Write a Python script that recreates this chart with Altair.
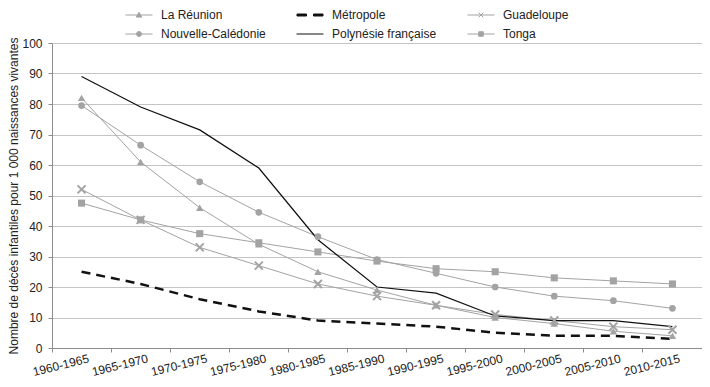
import altair as alt
import pandas as pd

periods = ["1960-1965", "1965-1970", "1970-1975", "1975-1980", "1980-1985", "1985-1990",
           "1990-1995", "1995-2000", "2000-2005", "2005-2010", "2010-2015"]
reunion = [82, 61, 46, 34, 25, 19, 14, 10, 8, 5.5, 4]
metropole = [25, 21, 16, 12, 9, 8, 7, 5, 4, 4, 3]
guadeloupe = [52, 42, 33, 27, 21, 17, 14, 11, 9, 7, 6]
caledonie = [79.5, 66.5, 54.5, 44.5, 36.5, 29, 24.5, 20, 17, 15.5, 13]
polynesie = [89, 79, 71.5, 59, 35.5, 20, 18, 10.5, 9, 9, 7]
tonga = [47.5, 42, 37.5, 34.5, 31.5, 28.5, 26, 25, 23, 22, 21]

series_names = ["La Réunion", "Métropole", "Guadeloupe",
                "Nouvelle-Calédonie", "Polynésie française", "Tonga"]
series_values = [reunion, metropole, guadeloupe, caledonie, polynesie, tonga]

GRAY = "#a3a3a3"
BLACK = "#111111"
series_colors = [GRAY, BLACK, GRAY, GRAY, BLACK, GRAY]

rows = []
for name, vals in zip(series_names, series_values):
    for p, v in zip(periods, vals):
        rows.append({"period": p, "series": name, "value": v})
df = pd.DataFrame(rows)

# legend symbols: line segment + small marker (unit space, r = sqrt(size)/2)
LINE = "M-2.7,0H2.7"
legend_paths = [
    LINE + "M0,-0.55L0.55,0.42L-0.55,0.42Z",
    "M-2.6,-0.2H-0.7V0.2H-2.6ZM0.7,-0.2H2.6V0.2H0.7Z",
    LINE + "M-0.45,-0.45L0.45,0.45M0.45,-0.45L-0.45,0.45",
    LINE + "M0.5,0A0.5,0.5,0,1,1,-0.5,0A0.5,0.5,0,1,1,0.5,0Z",
    LINE,
    LINE + "M-0.45,-0.45H0.45V0.45H-0.45Z",
]

FONT = "Liberation Sans"
WIDTH = 650
HEIGHT = 305

x_enc = alt.X(
    "period:N", sort=periods, title=None,
    scale=alt.Scale(type="band", paddingInner=0, paddingOuter=0),
    axis=alt.Axis(labelAngle=-14, bandPosition=0, labelOffset=6,
                  tickSize=4, tickColor="#8c8c8c", domainColor="#8c8c8c",
                  labelPadding=1, labelFontSize=12, labelFont=FONT, labelColor="#222",
                  grid=False),
)
y_enc = alt.Y(
    "value:Q", scale=alt.Scale(domain=[0, 100]),
    title="Nombre de décès infantiles pour 1 000 naissances vivantes",
    axis=alt.Axis(values=list(range(0, 101, 10)), tickSize=4, tickColor="#8c8c8c",
                  domainColor="#8c8c8c", gridColor="#c4c4c4", labelPadding=6,
                  labelFontSize=12, labelFont=FONT, labelColor="#222",
                  titleFont=FONT, titleFontSize=12, titleFontWeight="normal",
                  titleColor="#222", titlePadding=1),
)

base = alt.Chart(df)

gray_lines = base.transform_filter(
    alt.FieldOneOfPredicate(field="series",
                            oneOf=["La Réunion", "Guadeloupe", "Nouvelle-Calédonie", "Tonga"])
).mark_line(color=GRAY, strokeWidth=1).encode(x=x_enc, y=y_enc, detail="series:N")

poly_line = base.transform_filter(alt.datum.series == "Polynésie française").mark_line(
    color=BLACK, strokeWidth=1.25).encode(x=x_enc, y=y_enc)

metro_line = base.transform_filter(alt.datum.series == "Métropole").mark_line(
    color=BLACK, strokeWidth=2.5, strokeDash=[9, 6]).encode(x=x_enc, y=y_enc)

tri_pts = base.transform_filter(alt.datum.series == "La Réunion").mark_point(
    shape="triangle-up", filled=True, color=GRAY, size=55, opacity=1).encode(x=x_enc, y=y_enc)
circ_pts = base.transform_filter(alt.datum.series == "Nouvelle-Calédonie").mark_point(
    shape="circle", filled=True, color=GRAY, size=45, opacity=1).encode(x=x_enc, y=y_enc)
sq_pts = base.transform_filter(alt.datum.series == "Tonga").mark_point(
    shape="square", filled=True, color=GRAY, size=50, opacity=1).encode(x=x_enc, y=y_enc)
x_pts = base.transform_filter(alt.datum.series == "Guadeloupe").mark_point(
    shape="M-1,-1L1,1M1,-1L-1,1", filled=False, color=GRAY, strokeWidth=2, size=64,
    opacity=1).encode(x=x_enc, y=y_enc)

legend_layer = base.mark_point(opacity=0, filled=True, size=100).encode(
    x=x_enc, y=y_enc,
    shape=alt.Shape("series:N", scale=alt.Scale(domain=series_names, range=legend_paths),
                    legend=alt.Legend(title=None, orient="none", direction="horizontal",
                                      columns=3, legendX=81, legendY=-34,
                                      columnPadding=28, rowPadding=7,
                                      labelFont=FONT, labelFontSize=12, labelColor="#222",
                                      symbolSize=100, symbolStrokeWidth=1,
                                      symbolOpacity=1, labelOffset=16)),
    fill=alt.Fill("series:N", scale=alt.Scale(domain=series_names, range=series_colors)),
    stroke=alt.Stroke("series:N", scale=alt.Scale(domain=series_names, range=series_colors)),
)

chart = alt.layer(
    gray_lines, poly_line, metro_line, tri_pts, circ_pts, sq_pts, x_pts, legend_layer
).properties(
    width=WIDTH, height=HEIGHT,
    autosize=alt.AutoSizeParams(type="none"),
    padding={"left": 44, "top": 35, "right": 0, "bottom": 31},
).configure_view(stroke=None).configure(background="white")

chart.save("out.html", embed_options={"renderer": "svg", "actions": False})
